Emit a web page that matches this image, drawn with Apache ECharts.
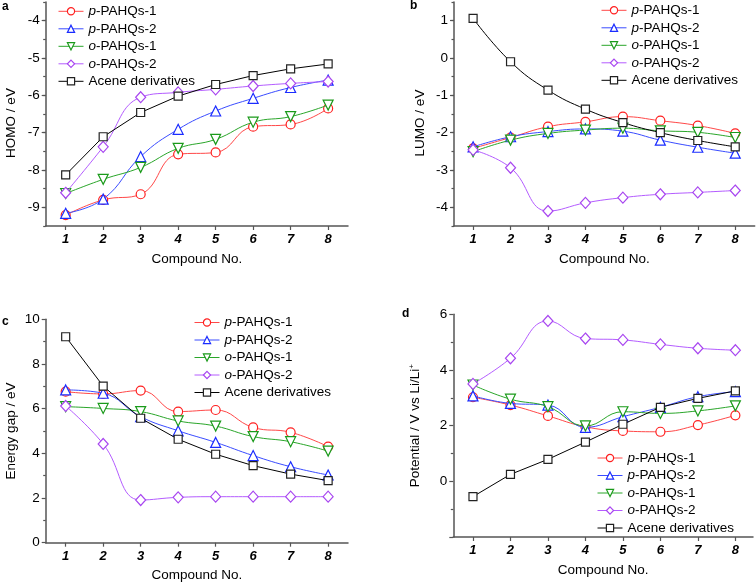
<!DOCTYPE html>
<html>
<head>
<meta charset="utf-8">
<script src="https://cdn.jsdelivr.net/npm/echarts@6/dist/echarts.min.js"></script>
<style>html,body{margin:0;padding:0;background:#fff;}#c{width:756px;height:585px;}</style>
</head>
<body>
<div id="c"></div>
<script>
// ---- data ----
const compounds = [1, 2, 3, 4, 5, 6, 7, 8];
const seriesNames = ['p-PAHQs-1', 'p-PAHQs-2', 'o-PAHQs-1', 'o-PAHQs-2', 'Acene derivatives'];

const homoP1 = [-9.21, -8.80, -8.65, -7.58, -7.53, -6.84, -6.78, -6.35];
const homoP2 = [-9.16, -8.78, -7.64, -6.91, -6.42, -6.08, -5.79, -5.59];
const homoO1 = [-8.63, -8.25, -7.93, -7.42, -7.18, -6.72, -6.57, -6.26];
const homoO2 = [-8.61, -7.38, -6.05, -5.92, -5.84, -5.75, -5.68, -5.63];
const homoAcene = [-8.13, -7.11, -6.46, -6.02, -5.71, -5.47, -5.29, -5.16];

const lumoP1 = [-2.42, -2.13, -1.84, -1.71, -1.57, -1.68, -1.81, -2.02];
const lumoP2 = [-2.38, -2.11, -1.97, -1.90, -1.96, -2.20, -2.39, -2.55];
const lumoO1 = [-2.51, -2.20, -2.02, -1.93, -1.88, -1.95, -1.99, -2.13];
const lumoO2 = [-2.46, -2.94, -4.10, -3.88, -3.74, -3.65, -3.60, -3.55];
const lumoAcene = [1.06, -0.10, -0.86, -1.37, -1.73, -2.00, -2.21, -2.38];

const gapP1 = [6.76, 6.66, 6.81, 5.87, 5.94, 5.16, 4.94, 4.30];
const gapP2 = [6.84, 6.69, 5.64, 5.01, 4.49, 3.90, 3.40, 3.03];
const gapO1 = [6.09, 6.01, 5.87, 5.45, 5.22, 4.75, 4.52, 4.10];
const gapO2 = [6.12, 4.42, 1.91, 2.03, 2.06, 2.06, 2.06, 2.06];
const gapAcene = [9.22, 7.01, 5.57, 4.63, 3.96, 3.45, 3.07, 2.78];

const potP1 = [3.02, 2.74, 2.35, 1.96, 1.81, 1.78, 2.02, 2.37];
const potP2 = [3.07, 2.80, 2.74, 1.94, 2.32, 2.66, 3.04, 3.22];
const potO1 = [3.46, 2.95, 2.68, 1.99, 2.50, 2.44, 2.53, 2.71];
const potO2 = [3.50, 4.42, 5.76, 5.13, 5.08, 4.92, 4.78, 4.71];
const potAcene = [-0.55, 0.25, 0.79, 1.41, 2.05, 2.66, 2.98, 3.25];

const homoTicks = [-9, -8, -7, -6, -5, -4];
const lumoTicks = [-4, -3, -2, -1, 0, 1];

// ---- styling ----
const FONT = 'Liberation Sans, Arial, Helvetica, sans-serif';
const styles = [
  { color: '#ff2020', line: '#ff4848', symbol: 'circle', size: 9, rot: 0 },
  { color: '#1a2cff', line: '#3a4cff', symbol: 'triangle', size: 10, rot: 0 },
  { color: '#1a9a1a', line: '#2aa62a', symbol: 'triangle', size: 10, rot: 180 },
  { color: '#a846f0', line: '#b45cff', symbol: 'diamond', size: [10, 11], rot: 0 },
  { color: '#222222', line: '#000000', symbol: 'rect', size: 8, rot: 0 }
];
const AX = '#555';

function pairs(arr) { return arr.map((v, i) => [compounds[i], v]); }

function mkSeries(panel, arrs, smoothFlags) {
  return arrs.map((arr, k) => ({
    name: seriesNames[k],
    type: 'line',
    xAxisIndex: panel,
    yAxisIndex: panel,
    data: pairs(arr),
    smooth: smoothFlags[k] ? 0.45 : false,
    symbol: styles[k].symbol,
    symbolSize: styles[k].size,
    symbolRotate: styles[k].rot,
    showAllSymbol: true,
    lineStyle: { color: styles[k].line, width: 1 },
    itemStyle: { color: '#fff', borderColor: styles[k].color, borderWidth: 1.2 },
    emphasis: { disabled: true },
    z: 2 + k
  }));
}

function xAxis(gi, min, max) {
  return {
    type: 'value', gridIndex: gi, min: min, max: max,
    name: 'Compound No.', nameLocation: 'middle', nameGap: 26,
    nameTextStyle: { fontSize: 13.5, color: '#000', fontFamily: FONT },
    axisLine: { onZero: false, lineStyle: { color: AX, width: 1.5 } },
    axisTick: { customValues: compounds, length: 4, lineStyle: { color: AX, width: 1.2 } },
    axisLabel: { customValues: compounds, margin: 7, fontSize: 13, fontWeight: 'bold', fontStyle: 'italic', color: '#000', fontFamily: FONT },
    splitLine: { show: false }
  };
}

function yAxisBase(gi, min, max, name, nameGap) {
  return {
    type: 'value', gridIndex: gi, min: min, max: max, position: 'left',
    name: name, nameLocation: 'middle', nameGap: nameGap,
    nameTextStyle: {
      fontSize: 13.5, color: '#000', fontFamily: FONT,
      rich: {
        sup: { fontSize: 8, verticalAlign: 'top', padding: [0, 0, 8, 0], color: '#000', fontFamily: FONT },
        sp: { width: 18, fontSize: 13.5 }
      }
    },
    axisLine: { onZero: false, lineStyle: { color: AX, width: 1.5 } },
    axisTick: { length: 4, lineStyle: { color: AX, width: 1.2 } },
    axisLabel: { margin: 6, fontSize: 13.5, color: '#000', fontFamily: FONT },
    splitLine: { show: false }
  };
}

function minorAxis(gi, min, max, interval) {
  return {
    type: 'value', gridIndex: gi, min: min, max: max, interval: interval, position: 'left',
    axisLine: { show: false, onZero: false },
    axisTick: { length: 2.5, lineStyle: { color: AX, width: 1.2 } },
    axisLabel: { show: false },
    splitLine: { show: false }
  };
}

const yA = yAxisBase(0, -9.5, -3.5, 'HOMO / eV{sp| }', 27);
yA.axisTick.customValues = homoTicks;
yA.axisLabel.customValues = homoTicks;
const yB = yAxisBase(1, -4.5, 1.5, 'LUMO / eV{sp| }', 27);
yB.axisTick.customValues = lumoTicks;
yB.axisLabel.customValues = lumoTicks;
const yC = yAxisBase(2, 0, 10, 'Energy gap / eV', 27);
yC.interval = 2;
yC.minorTick = { show: true, splitNumber: 2, length: 2.5, lineStyle: { color: AX, width: 1.2 } };
const yD = yAxisBase(3, -2, 6, 'Potential / V vs Li/Li{sup|+}', 30);
yD.interval = 2;
yD.axisLabel.showMinLabel = false;
yD.minorTick = { show: true, splitNumber: 2, length: 2.5, lineStyle: { color: AX, width: 1.2 } };

function legend(left, top) {
  return {
    data: seriesNames, orient: 'vertical', left: left, top: top,
    padding: 0, itemWidth: 25, itemHeight: 9, itemGap: 3.5,
    selectedMode: false,
    lineStyle: { width: 1 },
    itemStyle: { borderWidth: 1.2 },
    textStyle: {
      fontSize: 13.5, color: '#000', fontFamily: FONT,
      rich: { it: { fontStyle: 'italic', fontSize: 13.5, color: '#000', fontFamily: FONT } }
    },
    formatter: function (n) {
      if (n.indexOf('p-') === 0 || n.indexOf('o-') === 0) return '{it|' + n.charAt(0) + '}' + n.slice(1);
      return n;
    }
  };
}

function panelTitle(t, left, top) {
  return { text: t, left: left, top: top, padding: 0, textStyle: { fontSize: 12, fontWeight: 'bold', color: '#000', fontFamily: FONT } };
}

const option = {
  animation: false,
  backgroundColor: '#fff',
  title: [panelTitle('a', 2, 1), panelTitle('b', 410, 0), panelTitle('c', 2, 316), panelTitle('d', 402, 308)],
  legend: [legend(58, 4.3), legend(601, 3.3), legend(194, 315.5), legend(597, 451)],
  grid: [
    { left: 45.7, top: 2, width: 302.3, height: 224 },
    { left: 454, top: 2, width: 300.7, height: 224 },
    { left: 45.7, top: 319.3, width: 302.3, height: 223.4 },
    { left: 453.3, top: 314.3, width: 299.7, height: 222.7 }
  ],
  xAxis: [xAxis(0, 0.467, 8.53), xAxis(1, 0.49, 8.52), xAxis(2, 0.467, 8.53), xAxis(3, 0.475, 8.47)],
  yAxis: [yA, yB, yC, yD, minorAxis(0, -9.5, -3.5, 0.5), minorAxis(1, -4.5, 1.5, 0.5)],
  series: [].concat(
    mkSeries(0, [homoP1, homoP2, homoO1, homoO2, homoAcene], [1, 1, 1, 1, 0]),
    mkSeries(1, [lumoP1, lumoP2, lumoO1, lumoO2, lumoAcene], [1, 1, 1, 1, 1]),
    mkSeries(2, [gapP1, gapP2, gapO1, gapO2, gapAcene], [1, 1, 1, 1, 0]),
    mkSeries(3, [potP1, potP2, potO1, potO2, potAcene], [1, 1, 1, 1, 0])
  )
};

const chart = echarts.init(document.getElementById('c'), null, { renderer: 'canvas' });
chart.setOption(option);
</script>
</body>
</html>
